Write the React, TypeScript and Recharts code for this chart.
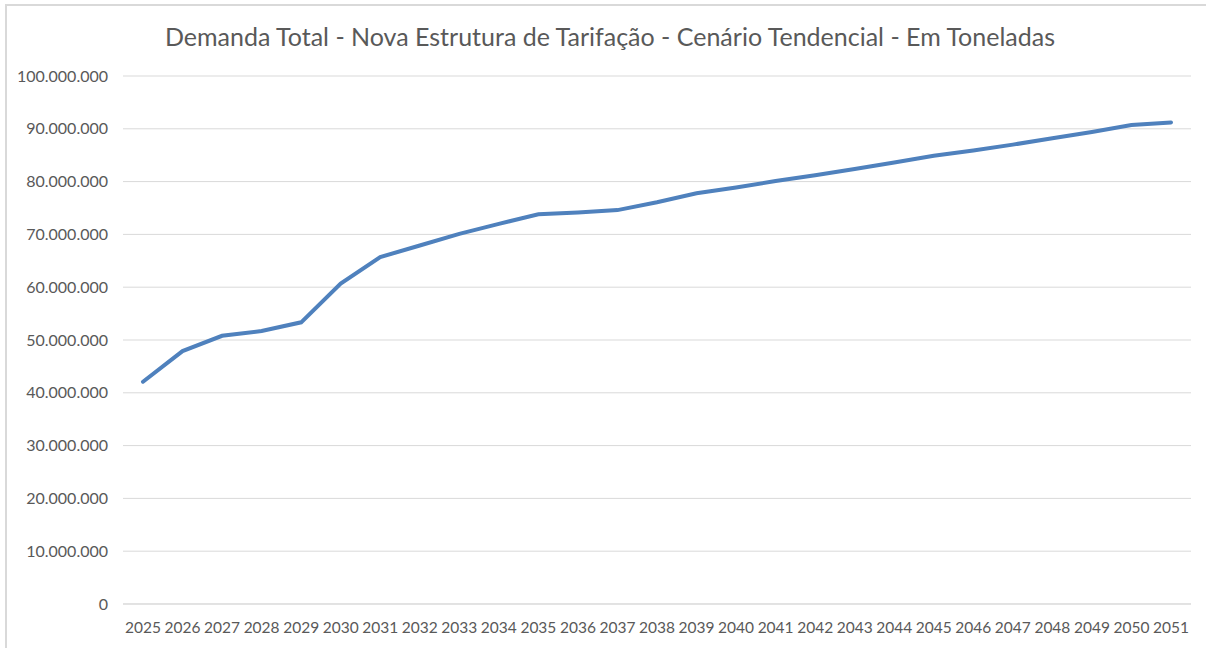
import { CartesianGrid, Line, LineChart, XAxis, YAxis } from "recharts";

const years = [
  "2025", "2026", "2027", "2028", "2029", "2030", "2031", "2032", "2033",
  "2034", "2035", "2036", "2037", "2038", "2039", "2040", "2041", "2042",
  "2043", "2044", "2045", "2046", "2047", "2048", "2049", "2050", "2051"
];

const demanda = [
  42100000, 47900000, 50800000, 51700000, 53350000, 60700000, 65700000,
  67900000, 70100000, 72000000, 73800000, 74150000, 74600000, 76100000,
  77800000, 78900000, 80100000, 81200000, 82400000, 83600000, 84900000,
  85900000, 87000000, 88200000, 89400000, 90700000, 91200000
];

const yTicks = [
  0, 10000000, 20000000, 30000000, 40000000, 50000000, 60000000, 70000000,
  80000000, 90000000, 100000000
];

const data = years.map((year, i) => ({ year, demanda: demanda[i] }));

const fmt = (v: number) => String(v).replace(/\B(?=(\d{3})+(?!\d))/g, ".");

const textColor = "#595959";
const font = "Lato, 'Open Sans', sans-serif";

export default function App() {
  return (
    <div
      style={{
        position: "absolute",
        left: 0,
        top: 0,
        width: 1206,
        height: 648,
        background: "#fff",
        fontFamily: font
      }}
    >
      <div
        style={{
          position: "absolute",
          left: 5,
          top: 4,
          width: 1201,
          height: 644,
          borderTop: "2px solid #d9d9d9",
          borderLeft: "2px solid #d9d9d9",
          boxSizing: "border-box"
        }}
      />
      <div
        style={{
          position: "absolute",
          left: 0,
          width: 1220,
          top: 21,
          textAlign: "center",
          fontSize: 25,
          color: textColor,
          whiteSpace: "nowrap"
        }}
      >
        Demanda Total - Nova Estrutura de Tarifação - Cenário Tendencial - Em Toneladas
      </div>
      <div style={{ position: "absolute", left: 0, top: 0 }}>
        <LineChart
          width={1206}
          height={648}
          data={data}
          margin={{ top: 76, right: 15, bottom: 14, left: 0 }}
        >
          <CartesianGrid stroke="#d9d9d9" vertical={false} />
          <XAxis
            dataKey="year"
            interval={0}
            padding={{ left: 20, right: 20 }}
            tickLine={false}
            axisLine={{ stroke: "#d9d9d9" }}
            tick={{ fill: textColor, fontSize: 15.5, fontFamily: font }}
            tickMargin={12}
            height={30}
          />
          <YAxis
            width={123}
            domain={[0, 100000000]}
            ticks={yTicks}
            tickFormatter={fmt}
            tickLine={false}
            axisLine={false}
            tick={{ fill: textColor, fontSize: 16, fontFamily: font }}
            tickMargin={9}
          />
          <Line
            type="linear"
            dataKey="demanda"
            stroke="#4f81bd"
            strokeWidth={4}
            dot={false}
            strokeLinecap="round"
            isAnimationActive={false}
          />
        </LineChart>
      </div>
    </div>
  );
}
